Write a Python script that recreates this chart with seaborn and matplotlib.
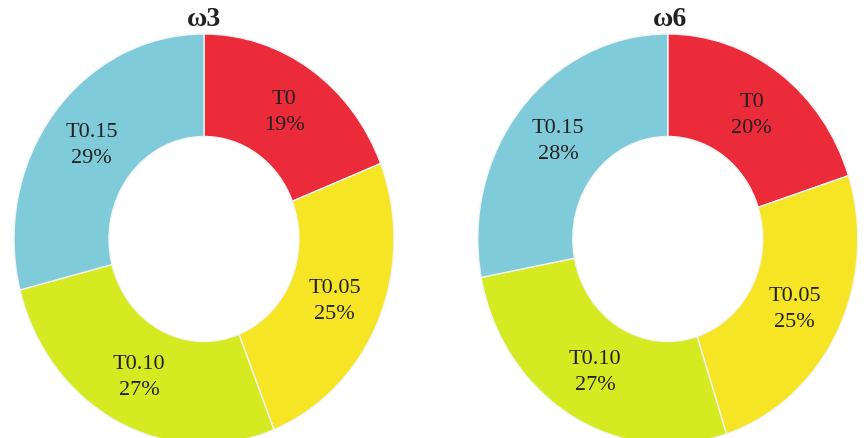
import numpy as np
import matplotlib
matplotlib.use('Agg')
import matplotlib.pyplot as plt
import seaborn as sns

CATEGORIES = ['T0', 'T0.05', 'T0.10', 'T0.15']
OMEGA3 = [19, 25, 27, 29]
OMEGA6 = [20, 25, 27, 28]
TITLES = ['ω3', 'ω6']
COLORS = ['#EB2A3A', '#F5E524', '#D6EA22', '#80CBD9']


def draw_donut(ax, values, title):
    labels = [f'{c}\n{v}%' for c, v in zip(CATEGORIES, values)]
    wedges, texts = ax.pie(values, labels=labels, colors=COLORS, startangle=90,
                           counterclock=False, labeldistance=0.75,
                           wedgeprops=dict(width=0.5, edgecolor='#f4f4f4', linewidth=1))
    for t in texts:
        t.set_ha('center')
        t.set_va('center')
        t.set_multialignment('center')
        t.set_linespacing(1.5)
        t.set_fontsize(16)
        t.set_color('#222222')
        t.set_family('Liberation Serif')
    ax.set_aspect('auto')
    ax.set_xlim(-1, 1)
    ax.set_ylim(-1, 1)
    ax.axis('off')


def main():
    sns.set_theme(style='white')
    plt.rcParams['font.family'] = ['Liberation Serif', 'DejaVu Serif']
    fig = plt.figure(figsize=(8.64, 4.39), dpi=100)

    ax1 = fig.add_axes([0.0162, -0.0137, 0.4398, 0.934])
    ax2 = fig.add_axes([0.553, -0.0137, 0.4398, 0.934])
    draw_donut(ax1, OMEGA3, TITLES[0])
    draw_donut(ax2, OMEGA6, TITLES[1])

    fig.text(204 / 864, 1 - 20 / 439, TITLES[0], ha='center', va='center',
             fontsize=20, fontweight='bold', color='#222222')
    fig.text(670 / 864, 1 - 20 / 439, TITLES[1], ha='center', va='center',
             fontsize=20, fontweight='bold', color='#222222')

    fig.savefig('out.png', dpi=100)


if __name__ == '__main__':
    main()
